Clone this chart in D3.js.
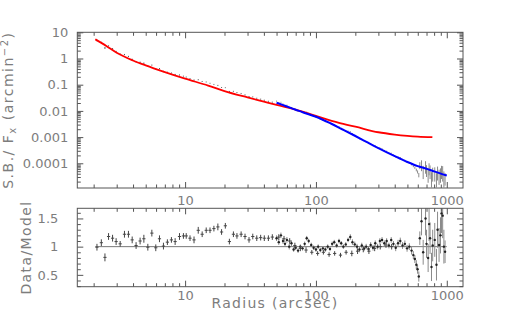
<!DOCTYPE html>
<html>
<head>
<meta charset="utf-8">
<script src="https://cdn.jsdelivr.net/npm/d3@7"></script>
<style>
  body { margin: 0; background: #fff; }
  svg { display: block; font-family: "DejaVu Sans", sans-serif; }
</style>
</head>
<body>
<svg id="chart" width="514" height="319"></svg>
<script>
// inner profile (black points, compared to the red model)
const rA = [2.12, 2.29, 2.44, 2.60, 2.79, 2.97, 3.19, 3.44, 3.69, 3.94, 4.22, 4.53, 4.84, 5.19, 5.57, 5.97, 6.37, 6.83, 7.32, 7.86,
  8.39, 9.06, 9.71, 10.2, 10.9, 11.7, 12.6, 13.5, 14.5, 15.5, 16.6, 17.8, 19.0, 20.3, 21.8, 23.4, 24.9, 26.8, 28.7, 30.8,
  32.9, 35.3, 37.8, 40.3, 43.3, 46.4];
const sbA = [4.85, 4.12, 2.54, 3.03, 2.38, 1.85, 1.48, 1.42, 1.2, 0.93, 0.76, 0.72, 0.66, 0.51, 0.56, 0.40, 0.41, 0.32, 0.30, 0.28,
  0.245, 0.235, 0.212, 0.196, 0.171, 0.15, 0.155, 0.133, 0.127, 0.1135, 0.103, 0.094, 0.078, 0.0765, 0.0552, 0.056, 0.050, 0.0464, 0.041, 0.0354,
  0.0342, 0.0304, 0.0281, 0.0256, 0.0233, 0.0216];
const ratioA = [0.99, 1.07, 0.81, 1.18, 1.15, 1.09, 1.05, 1.22, 1.22, 1.12, 1.02, 1.10, 1.14, 0.99, 1.24, 0.98, 1.14, 1.01, 1.08, 1.12,
  1.09, 1.18, 1.19, 1.19, 1.15, 1.12, 1.29, 1.22, 1.29, 1.29, 1.32, 1.35, 1.26, 1.37, 1.09, 1.22, 1.19, 1.22, 1.18, 1.12,
  1.18, 1.15, 1.16, 1.15, 1.15, 1.17];
const errA = [0.06, 0.06, 0.07, 0.06, 0.06, 0.06, 0.05, 0.06, 0.06, 0.06, 0.06, 0.06, 0.07, 0.06, 0.06, 0.06, 0.06, 0.06, 0.05, 0.05,
  0.06, 0.06, 0.05, 0.05, 0.05, 0.06, 0.06, 0.05, 0.05, 0.05, 0.05, 0.06, 0.05, 0.05, 0.05, 0.05, 0.05, 0.05, 0.05, 0.05,
  0.05, 0.05, 0.05, 0.05, 0.05, 0.05];
// same data beyond 50", only seen in the ratio panel
const rAOut = [52, 57, 63, 69, 76, 84, 93, 103, 114, 126, 139, 154, 170, 188, 208, 230, 254, 281, 310, 343, 379];
const ratioAOut = [1.17, 1.14, 1.10, 1.02, 0.97, 0.94, 0.90, 0.88, 0.90, 0.86, 0.88, 0.85, 0.90, 0.88, 0.92, 0.95, 0.92, 0.97, 1.00, 1.03, 1.00];
const errAOut = [0.05, 0.05, 0.05, 0.05, 0.05, 0.05, 0.04, 0.04, 0.04, 0.04, 0.04, 0.04, 0.04, 0.05, 0.05, 0.05, 0.05, 0.05, 0.05, 0.05, 0.05];

// outer profile (grey points, compared to the blue model)
const rB = [50, 52, 54, 56, 58, 60, 62.5, 65, 67.5, 70, 73, 76, 79, 82, 85, 88, 92, 96, 100, 104,
  108, 113, 118, 123, 128, 133, 138, 144, 150, 156, 162, 169, 176, 183, 190, 198, 206, 215, 224, 233,
  242, 252, 262, 273, 284, 296, 308, 320, 333, 347, 361, 376, 391, 407, 424, 441, 459, 478, 497, 517,
  538, 555, 570, 585, 598, 611];
const sbB = [0.0236, 0.0206, 0.0214, 0.0183, 0.0164, 0.0165, 0.01365, 0.01348, 0.01128, 0.01088, 0.00959, 0.00962, 0.00872, 0.00877, 0.00905, 0.00817, 0.00711, 0.0063, 0.0057, 0.00549,
  0.00474, 0.0044, 0.0039, 0.00374, 0.00328, 0.00327, 0.00306, 0.00259, 0.00253, 0.0022, 0.00189, 0.00177, 0.00171, 0.00162, 0.00136, 0.00118, 0.00102, 0.000867, 0.000837, 0.000719,
  0.000671, 0.000573, 0.000555, 0.000475, 0.000462, 0.000391, 0.00039, 0.000361, 0.00031, 0.000291, 0.000245, 0.000243, 0.000208, 0.000176, 0.000174, 0.000164, 0.000139, 0.00013, 0.00011, 0.000105,
  0.00009, 0.0000774, 0.0000673, 0.0000558, 0.0000471, 0.000036];
const ratioB = [1.15, 1.08, 1.20, 1.10, 1.05, 1.12, 1.00, 1.06, 0.95, 0.98, 0.93, 1.00, 0.97, 1.05, 1.15, 1.10, 1.03, 0.98, 0.95, 1.00,
  0.94, 0.97, 0.95, 1.00, 0.96, 1.05, 1.08, 1.02, 1.10, 1.06, 1.00, 1.04, 1.12, 1.17, 1.08, 1.04, 1.00, 0.95, 1.02, 0.97,
  1.00, 0.96, 1.03, 0.98, 1.06, 1.00, 1.10, 1.12, 1.06, 1.10, 1.02, 1.12, 1.05, 0.98, 1.06, 1.10, 1.02, 1.05, 0.97, 1.00,
  0.93, 0.85, 0.78, 0.68, 0.60, 0.47];
const errB = [0.05, 0.05, 0.05, 0.05, 0.05, 0.05, 0.05, 0.05, 0.04, 0.04, 0.04, 0.04, 0.04, 0.04, 0.04, 0.04, 0.04, 0.04, 0.04, 0.04,
  0.04, 0.04, 0.04, 0.04, 0.04, 0.04, 0.04, 0.04, 0.04, 0.04, 0.04, 0.04, 0.04, 0.05, 0.05, 0.05, 0.05, 0.05, 0.05, 0.05,
  0.05, 0.05, 0.05, 0.05, 0.05, 0.05, 0.05, 0.05, 0.05, 0.05, 0.05, 0.05, 0.05, 0.06, 0.06, 0.06, 0.06, 0.06, 0.06, 0.06,
  0.07, 0.07, 0.07, 0.08, 0.08, 0.09];
// noisy outermost bins
const rBEnd = [622, 641, 660, 688, 700, 720, 732, 745, 764, 780, 809, 834, 850, 873, 895, 911, 930, 950, 970];
const sbBEnd = [0.000085, 0.000103, 0.000061, 0.0000956, 0.0000651, 0.0000472, 0.0000802, 0.000064, 0.000034, 0.0000523,
  0.0000539, 0.0000312, 0.0000578, 0.0000438, 0.000049, 0.000063, 0.0000594, 0.000037, 0.0000326];
const sbBEndLo = [0.00006, 0.00005, 0.000025, 0.00004, 0.00003, 0.000018, 0.000035, 0.000025, 0.000012, 0.00002,
  0.00002, 0.00001, 0.000022, 0.000015, 0.000018, 0.000025, 0.00002, 0.000012, 0.000014];
const sbBEndHi = [0.00011, 0.00013, 0.00008, 0.00012, 0.000085, 0.000063, 0.0001, 0.000083, 0.000046, 0.000068,
  0.00007, 0.000042, 0.000075, 0.000057, 0.000064, 0.00008, 0.000078, 0.000049, 0.000042];
const ratioBEnd = [1.15, 1.45, 0.90, 1.50, 1.05, 0.80, 1.40, 1.15, 0.64, 1.02, 1.12, 0.68, 1.30, 1.03, 1.20, 1.59, 1.55, 1.00, 0.91];
const errBEnd = [0.12, 0.25, 0.22, 0.30, 0.25, 0.25, 0.30, 0.28, 0.25, 0.28, 0.30, 0.28, 0.32, 0.30, 0.32, 0.35, 0.40, 0.30, 0.20];

// models
const rRed = [2.06, 2.5, 3, 4, 5, 7, 10, 15, 20, 30, 40, 50, 70, 100, 150, 200, 300, 400, 500, 600, 776];
const sbRed = [5.4, 3.0, 1.66, 0.84, 0.545, 0.303, 0.17, 0.093, 0.057, 0.0327, 0.0225, 0.0168, 0.0112, 0.0064, 0.0035, 0.0025, 0.00153, 0.00125, 0.00112, 0.00105, 0.001];
const rBlue = [50, 60, 70, 80, 100, 130, 160, 200, 250, 300, 400, 500, 600, 700, 800, 1000];
const sbBlue = [0.0205, 0.0147, 0.0111, 0.0087, 0.0060, 0.0033, 0.00195, 0.0011, 0.00061, 0.000378, 0.000187, 0.000112, 0.000078, 0.000062, 0.000049, 0.000034];

// ticks
const xMajor = [10, 100, 1000];
const yTopMajor = [10, 1, 0.1, 0.01, 0.001, 0.0001];
const yTopLabels = ["10", "1", "0.1", "0.01", "0.001", "0.0001"];
const yResMajor = [0.5, 1, 1.5];
const yResLabels = ["0.5", "1", "1.5"];
const unitySpan = [2.06, 1000];

const svg = d3.select("#chart");
const frameColor = "#555";
const inkColor = "#7d7d7d";

const L = 77.3, R = 463;
const topT = 32.3, botT = 188, topR = 208.3, botR = 286.7;

const x = d3.scaleLog().domain([1.5, 1330]).range([L, R]);
const yT = d3.scaleLog().domain([1.14e-5, 10]).range([botT, topT]);
const yR = d3.scaleLinear().domain([0.29, 1.68]).range([botR, topR]);

const isDecade = v => Math.abs(Math.log10(v) - Math.round(Math.log10(v))) < 1e-6;
const xMinor = x.ticks().filter(v => !isDecade(v));
const yTopMinor = yT.ticks().filter(v => !isDecade(v));
const yResMinor = yR.ticks(14).filter(v => !yResMajor.some(m => Math.abs(m - v) < 1e-6));

// clip paths
const defs = svg.append("defs");
defs.append("clipPath").attr("id", "clipTop").append("rect")
  .attr("x", L).attr("y", topT).attr("width", R - L).attr("height", botT - topT);
defs.append("clipPath").attr("id", "clipRes").append("rect")
  .attr("x", L).attr("y", topR).attr("width", R - L).attr("height", botR - topR);

// ---- top panel: surface brightness ----
const gTop = svg.append("g").attr("clip-path", "url(#clipTop)");

const lo = v => Math.max(v, 1.2e-5);

gTop.append("g").selectAll("line")
  .data(d3.range(rB.length))
  .join("line")
  .attr("x1", i => x(rB[i])).attr("x2", i => x(rB[i]))
  .attr("y1", i => yT(lo(sbB[i] * (1 - errB[i] / ratioB[i]))))
  .attr("y2", i => yT(sbB[i] * (1 + errB[i] / ratioB[i])))
  .attr("stroke", "#8a8a8a").attr("stroke-width", 1);

gTop.append("g").selectAll("line")
  .data(d3.range(rBEnd.length))
  .join("line")
  .attr("x1", i => x(rBEnd[i])).attr("x2", i => x(rBEnd[i]))
  .attr("y1", i => yT(lo(sbBEndLo[i])))
  .attr("y2", i => yT(sbBEndHi[i]))
  .attr("stroke", "#8a8a8a").attr("stroke-width", 1);

gTop.append("g").selectAll("line")
  .data(d3.range(rA.length))
  .join("line")
  .attr("x1", i => x(rA[i])).attr("x2", i => x(rA[i]))
  .attr("y1", i => yT(sbA[i] * (1 - errA[i] / ratioA[i])))
  .attr("y2", i => yT(sbA[i] * (1 + errA[i] / ratioA[i])))
  .attr("stroke", "#555").attr("stroke-width", 1);

const modelLine = d3.line()
  .x(d => x(d[0]))
  .y(d => yT(d[1]))
  .curve(d3.curveMonotoneX);

gTop.append("path")
  .datum(d3.zip(rRed, sbRed))
  .attr("d", modelLine)
  .attr("fill", "none").attr("stroke", "#ff0000").attr("stroke-width", 1.8);

gTop.append("path")
  .datum(d3.zip(rBlue, sbBlue))
  .attr("d", modelLine)
  .attr("fill", "none").attr("stroke", "#0000ff").attr("stroke-width", 2);

// ---- bottom panel: data / model ----
const gRes = svg.append("g").attr("clip-path", "url(#clipRes)");

gRes.append("line")
  .attr("x1", x(unitySpan[0])).attr("x2", x(unitySpan[1]))
  .attr("y1", yR(1)).attr("y2", yR(1))
  .attr("stroke", "#777").attr("stroke-width", 1);

const rBAll = rB.concat(rBEnd);
const ratioBAll = ratioB.concat(ratioBEnd);
const errBAll = errB.concat(errBEnd);

gRes.append("g").selectAll("line")
  .data(d3.range(rBAll.length))
  .join("line")
  .attr("x1", i => x(rBAll[i])).attr("x2", i => x(rBAll[i]))
  .attr("y1", i => yR(ratioBAll[i] - errBAll[i]))
  .attr("y2", i => yR(ratioBAll[i] + errBAll[i]))
  .attr("stroke", "#8a8a8a").attr("stroke-width", 1);

gRes.append("g").selectAll("circle")
  .data(d3.range(rBAll.length))
  .join("circle")
  .attr("cx", i => x(rBAll[i]))
  .attr("cy", i => yR(ratioBAll[i]))
  .attr("r", 1.2)
  .attr("fill", "#222");

const rAAll = rA.concat(rAOut);
const ratioAAll = ratioA.concat(ratioAOut);
const errAAll = errA.concat(errAOut);

const crosses = gRes.append("g").attr("stroke", "#444").attr("stroke-width", 1);
crosses.selectAll("line.v")
  .data(d3.range(rAAll.length))
  .join("line").attr("class", "v")
  .attr("x1", i => x(rAAll[i])).attr("x2", i => x(rAAll[i]))
  .attr("y1", i => yR(ratioAAll[i] - errAAll[i]))
  .attr("y2", i => yR(ratioAAll[i] + errAAll[i]));
crosses.selectAll("line.h")
  .data(d3.range(rAAll.length))
  .join("line").attr("class", "h")
  .attr("x1", i => x(rAAll[i]) - 1.6).attr("x2", i => x(rAAll[i]) + 1.6)
  .attr("y1", i => yR(ratioAAll[i])).attr("y2", i => yR(ratioAAll[i]));

// ---- frames and axes ----
[[topT, botT], [topR, botR]].forEach(([t, b]) => {
  svg.append("rect")
    .attr("x", L).attr("y", t).attr("width", R - L).attr("height", b - t)
    .attr("fill", "none").attr("stroke", frameColor).attr("stroke-width", 1);
});

function addAxis(axis, tx, ty) {
  const g = svg.append("g")
    .attr("transform", `translate(${tx},${ty})`)
    .call(axis);
  g.select(".domain").remove();
  g.attr("font-family", null).attr("font-size", null);
  g.selectAll(".tick line").attr("stroke", frameColor);
  g.selectAll(".tick text")
    .attr("fill", inkColor)
    .style("font-size", "13px");
  return g;
}

const major = 6, minor = 3.5;

// top panel
addAxis(d3.axisBottom(x).tickValues(xMajor).tickSizeInner(-major).tickSizeOuter(0)
  .tickPadding(7.5).tickFormat(d3.format("d")), 0, botT);
addAxis(d3.axisBottom(x).tickValues(xMinor).tickSizeInner(-minor).tickSizeOuter(0).tickFormat(""), 0, botT);
addAxis(d3.axisTop(x).tickValues(xMajor).tickSizeInner(-major).tickSizeOuter(0).tickFormat(""), 0, topT);
addAxis(d3.axisTop(x).tickValues(xMinor).tickSizeInner(-minor).tickSizeOuter(0).tickFormat(""), 0, topT);
addAxis(d3.axisLeft(yT).tickValues(yTopMajor).tickSizeInner(-major).tickSizeOuter(0)
  .tickPadding(9).tickFormat((d, i) => yTopLabels[i]), L, 0);
addAxis(d3.axisLeft(yT).tickValues(yTopMinor).tickSizeInner(-minor).tickSizeOuter(0).tickFormat(""), L, 0);
addAxis(d3.axisRight(yT).tickValues(yTopMajor).tickSizeInner(-major).tickSizeOuter(0).tickFormat(""), R, 0);
addAxis(d3.axisRight(yT).tickValues(yTopMinor).tickSizeInner(-minor).tickSizeOuter(0).tickFormat(""), R, 0);

// ratio panel
addAxis(d3.axisBottom(x).tickValues(xMajor).tickSizeInner(-major).tickSizeOuter(0)
  .tickPadding(4).tickFormat(d3.format("d")), 0, botR);
addAxis(d3.axisBottom(x).tickValues(xMinor).tickSizeInner(-minor).tickSizeOuter(0).tickFormat(""), 0, botR);
addAxis(d3.axisTop(x).tickValues(xMajor).tickSizeInner(-major).tickSizeOuter(0).tickFormat(""), 0, topR);
addAxis(d3.axisTop(x).tickValues(xMinor).tickSizeInner(-minor).tickSizeOuter(0).tickFormat(""), 0, topR);
addAxis(d3.axisLeft(yR).tickValues(yResMajor).tickSizeInner(-major).tickSizeOuter(0)
  .tickPadding(19).tickFormat((d, i) => yResLabels[i]), L, 0);
addAxis(d3.axisLeft(yR).tickValues(yResMinor).tickSizeInner(-minor).tickSizeOuter(0).tickFormat(""), L, 0);
addAxis(d3.axisRight(yR).tickValues(yResMajor).tickSizeInner(-major).tickSizeOuter(0).tickFormat(""), R, 0);
addAxis(d3.axisRight(yR).tickValues(yResMinor).tickSizeInner(-minor).tickSizeOuter(0).tickFormat(""), R, 0);

// ---- axis titles ----
const yTitle = svg.append("text")
  .attr("transform", `translate(13,${(topT + botT) / 2}) rotate(-90)`)
  .attr("text-anchor", "middle")
  .attr("fill", inkColor)
  .style("font-size", "14px")
  .style("letter-spacing", "1.5px");
yTitle.append("tspan").text("S.B./ F");
yTitle.append("tspan").attr("dy", 3).style("font-size", "10px").text("x");
yTitle.append("tspan").attr("dy", -3).text(" (arcmin");
yTitle.append("tspan").attr("dy", -5).style("font-size", "10px").text("\u22122");
yTitle.append("tspan").attr("dy", 5).text(")");

svg.append("text")
  .attr("transform", `translate(31,${(topR + botR) / 2}) rotate(-90)`)
  .attr("text-anchor", "middle")
  .attr("fill", inkColor)
  .style("font-size", "14px")
  .style("letter-spacing", "1.4px")
  .text("Data/Model");

svg.append("text")
  .attr("x", 275).attr("y", 308)
  .attr("text-anchor", "middle")
  .attr("fill", inkColor)
  .style("font-size", "14px")
  .style("letter-spacing", "1.3px")
  .text("Radius (arcsec)");
</script>
</body>
</html>
